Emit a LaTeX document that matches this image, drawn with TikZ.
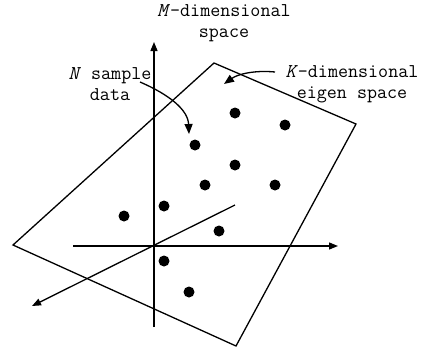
\documentclass[tikz,border=0pt]{standalone}
\usetikzlibrary{arrows.meta}
\begin{document}
\begin{tikzpicture}[x=1pt,y=-1pt,
  line width=1.3pt,
  dot/.style={circle,fill=black,inner sep=0pt,minimum size=11pt},
  lbl/.style={font=\ttfamily\fontsize{19.5}{21}\selectfont,inner sep=0pt,align=center},
  axis/.style={-{Triangle[length=9pt,width=7pt]}},
  pointer/.style={-{Triangle[length=10pt,width=8pt]}}]
\useasboundingbox (0,0) rectangle (426,349);
% plane
\coordinate (pT) at (214,63);
\coordinate (pR) at (356,124);
\coordinate (pB) at (236,346);
\coordinate (pL) at (13,245);
\draw (pT) -- (pR) -- (pB) -- (pL) -- cycle;
% axes
\coordinate (O) at (154,246);
\coordinate (vBot) at (154,327);
\coordinate (vTop) at (154,42);
\coordinate (hL) at (73,246);
\coordinate (hR) at (338,246);
\coordinate (dU) at (235,205);
\coordinate (dD) at (32,306);
\draw[axis] (vBot) -- (vTop);
\draw[axis] (hL) -- (hR);
\draw[axis] (dU) -- (dD);
% dots
\node[dot] (d1) at (235,113) {};
\node[dot] (d2) at (285,125) {};
\node[dot] (d3) at (195,145) {};
\node[dot] (d4) at (235,165) {};
\node[dot] (d5) at (205,185) {};
\node[dot] (d6) at (275,185) {};
\node[dot] (d7) at (164,206) {};
\node[dot] (d8) at (124,216) {};
\node[dot] (d9) at (219,231) {};
\node[dot] (d10) at (164,261) {};
\node[dot] (d11) at (189,292) {};
% labels
\node[lbl] (mlab) at (224,23) {\textit{M}-dimensional\\space};
\node[lbl] (nlab) at (110,84) {\textit{N} sample\\data};
\node[lbl] (klab) at (352,84) {\textit{K}-dimensional\\eigen space};
% pointers
\coordinate (nS) at (140,82);
\coordinate (nE) at (189,134);
\draw[pointer] (nS) .. controls (170,95) and (188,110) .. (nE);
\coordinate (kS) at (275,72);
\coordinate (kE) at (224,84);
\draw[pointer] (kS) .. controls (255,70) and (238,74) .. (kE);
\end{tikzpicture}
\end{document}
